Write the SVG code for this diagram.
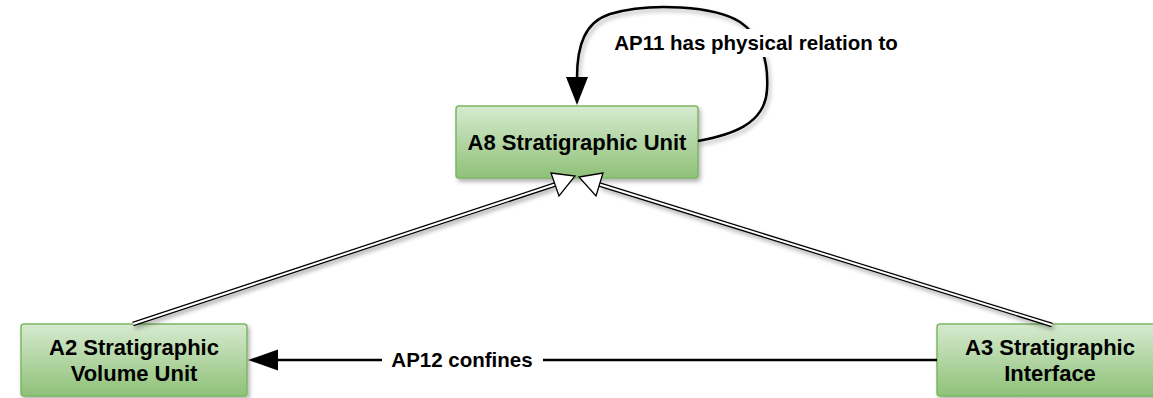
<svg xmlns="http://www.w3.org/2000/svg" width="1153" height="398" viewBox="0 0 1153 398">
<defs>
<linearGradient id="g" x1="0" y1="0" x2="0" y2="1">
<stop offset="0" stop-color="#d6ead0"/>
<stop offset="1" stop-color="#8fc178"/>
</linearGradient>
<filter id="sh" x="-10%" y="-10%" width="130%" height="140%">
<feDropShadow dx="2" dy="3" stdDeviation="2" flood-color="#000" flood-opacity="0.3"/>
</filter>
</defs>
<style>
.box{fill:url(#g);stroke:#7db763;stroke-width:1.5;filter:url(#sh)}
.t{font-family:"Liberation Sans",Arial,sans-serif;font-weight:bold;font-size:22px;fill:#000;text-anchor:middle}
.l{font-family:"Liberation Sans",Arial,sans-serif;font-weight:bold;font-size:20.5px;fill:#000;text-anchor:middle}
.outer{stroke:#000;stroke-width:4.5;fill:none}
.inner{stroke:#fff;stroke-width:2;fill:none}
.tri{fill:#fff;stroke:#000;stroke-width:1.3;stroke-linejoin:miter}
.line{stroke:#000;stroke-width:2.5;fill:none}
</style>
<g id="A8">
<rect class="box" x="456" y="106" width="242" height="72" rx="3"/>
<text class="t" x="577" y="150">A8 Stratigraphic Unit</text>
</g>
<g id="A2">
<rect class="box" x="21" y="324" width="226" height="72" rx="3"/>
<text class="t" x="134" y="355">A2 Stratigraphic</text>
<text class="t" x="134" y="381">Volume Unit</text>
</g>
<g id="A3">
<rect class="box" x="937" y="324" width="230" height="72" rx="3"/>
<text class="t" x="1050" y="355">A3 Stratigraphic</text>
<text class="t" x="1050" y="381">Interface</text>
</g>
<g id="connectors">
<g filter="url(#sh)">
<line class="outer" x1="133" y1="324" x2="555" y2="184.5"/>
<line class="outer" x1="1052" y1="325" x2="599.5" y2="184.5"/>
</g>
<line class="inner" x1="133" y1="324" x2="555" y2="184.5"/>
<line class="inner" x1="1052" y1="325" x2="599.5" y2="184.5"/>
<polygon class="tri" points="551,173 575,176 559,196"/>
<polygon class="tri" points="603,173 579,177 596,196"/>
<path class="line" filter="url(#sh)" d="M698,141 C730,135 765,125 767,90 C769,60 760,35 740,22 C715,6 650,2 610,14 C585,22 577,45 577,78"/>
<polygon points="577,105 566,77 588,77" fill="#000"/>
<rect x="612" y="29" width="288" height="28" fill="#fff"/>
<text class="l" x="756" y="50">AP11 has physical relation to</text>
<line class="line" x1="937" y1="360" x2="543" y2="360"/>
<line class="line" x1="382" y1="360" x2="276" y2="360"/>
<polygon points="248,360 278,349.5 278,370.5" fill="#000"/>
<text class="l" x="462" y="367">AP12 confines</text>
</g>
</svg>
